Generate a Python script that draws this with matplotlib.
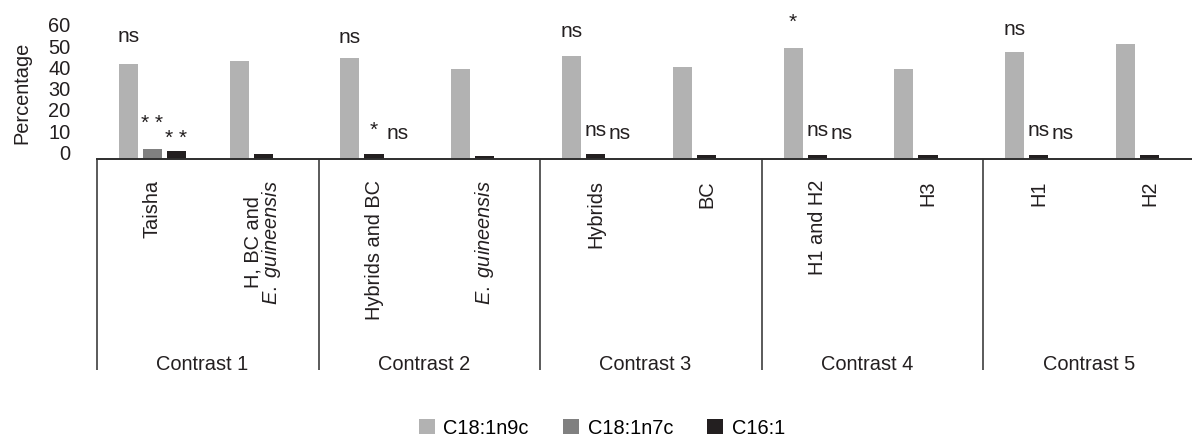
import matplotlib
matplotlib.use("Agg")
import matplotlib.pyplot as plt
from matplotlib.patches import Patch

plt.rcParams['font.family'] = ['Liberation Sans', 'DejaVu Sans']
plt.rcParams['mathtext.fontset'] = 'custom'
plt.rcParams['mathtext.rm'] = 'Liberation Sans'
plt.rcParams['mathtext.it'] = 'Liberation Sans:italic'

# --- data ---
categories = ["Taisha", "H, BC and\n$\\mathit{E.\\ guineensis}$", "Hybrids and BC",
              "$\\mathit{E.\\ guineensis}$", "Hybrids", "BC", "H1 and H2", "H3", "H1", "H2"]
contrasts = ["Contrast 1", "Contrast 2", "Contrast 3", "Contrast 4", "Contrast 5"]
series_names = ["C18:1n9c", "C18:1n7c", "C16:1"]
c18_n9c = [44.6, 46.0, 47.4, 42.2, 48.3, 43.2, 52.1, 42.2, 50.2, 54.0]
c18_n7c = [4.5, None, None, None, None, None, None, None, None, None]
c16_1 = [3.5, 2.1, 2.1, 1.2, 2.0, 1.5, 1.5, 1.6, 1.6, 1.6]
yticks = [0, 10, 20, 30, 40, 50, 60]

# significance marks for the first category of each contrast (slot -1, 0, +1)
sig_labels = [["ns", "* *", "* *"], ["ns", "*", "ns"], ["ns", "ns", "ns"],
              ["*", "ns", "ns"], ["ns", "ns", "ns"]]
sig_heights = [[55.0, 13.9, 6.8], [54.5, 10.8, 9.4], [57.3, 10.6, 9.2],
               [61.3, 10.6, 9.2], [58.3, 10.6, 9.2]]

COLORS = ["#b2b2b2", "#808080", "#231f20"]
LINE = "#2e2e2e"
FS = 14.4

W, H = 1192, 437
fig = plt.figure(figsize=(W / 100, H / 100), dpi=100)
# axes in pixel terms: x 97..1205, y 0 at 158.5, 60 at 31
ax = fig.add_axes([97 / W, 1 - 158.5 / H, 1108 / W, 127.5 / H])
ax.set_xlim(0, len(categories))
ax.set_ylim(0, 60)

bw = 0.172
step = 0.217
centers = [i + 0.5 for i in range(len(categories))]

ax.bar([c - step for c in centers], c18_n9c, width=bw, color=COLORS[0], zorder=3)
n7_x = [c for c, v in zip(centers, c18_n7c) if v is not None]
n7_v = [v for v in c18_n7c if v is not None]
ax.bar(n7_x, n7_v, width=bw, color=COLORS[1], zorder=3)
# C16:1 sits in the middle slot where there is no C18:1n7c bar
c16_x = [c + step if v is not None else c for c, v in zip(centers, c18_n7c)]
ax.bar(c16_x, c16_1, width=bw, color=COLORS[2], zorder=3)

# significance labels
for g, (labs, hts) in enumerate(zip(sig_labels, sig_heights)):
    c = centers[2 * g]
    for slot, (lab, h) in enumerate(zip(labs, hts)):
        ax.text(c + (slot - 1) * step, h, lab, ha='center', va='baseline',
                fontsize=15, color='#231f20', clip_on=False)

# axes styling
for s in ['top', 'right', 'left']:
    ax.spines[s].set_visible(False)
ax.spines['bottom'].set_color(LINE)
ax.spines['bottom'].set_linewidth(1.4)
ax.spines['bottom'].set_zorder(4)
ax.set_xticks([])
ax.set_yticks([])
for v in yticks:
    ax.annotate(str(v), xy=(0, v), xycoords=ax.get_yaxis_transform(),
                xytext=(-19, 2.9), textcoords='offset points',
                ha='right', va='center', fontsize=FS, color='#231f20',
                annotation_clip=False)

fig.text(22 / W, 1 - 93 / H, "Percentage", rotation=90, ha='center', va='center',
         fontsize=FS, color='#231f20')

# category labels, dividers and contrast labels
xt = ax.get_xaxis_transform()
for c, lab in zip(centers, categories):
    ax.text(c, -0.169, lab, transform=xt, rotation=90, ha='center', va='top',
            multialignment='center', linespacing=0.9, fontsize=FS, color='#231f20')
ax.vlines([0, 2, 4, 6, 8, 10], -1.659, 0, transform=xt, colors=LINE,
          linewidth=1.1, clip_on=False)
for g, name in enumerate(contrasts):
    ax.text(2 * g + 0.95, -1.612, name, transform=xt, ha='center', va='center',
            fontsize=FS, color='#231f20')

handles = [Patch(facecolor=c, edgecolor='none') for c in COLORS]
fig.legend(handles, series_names, loc='center', bbox_to_anchor=(602 / W, 1 - 428 / H),
           ncol=3, frameon=False, handlelength=0.8, handleheight=0.8,
           handletextpad=0.45, columnspacing=1.7, fontsize=FS, borderpad=0)

fig.savefig("out.png", dpi=100)
